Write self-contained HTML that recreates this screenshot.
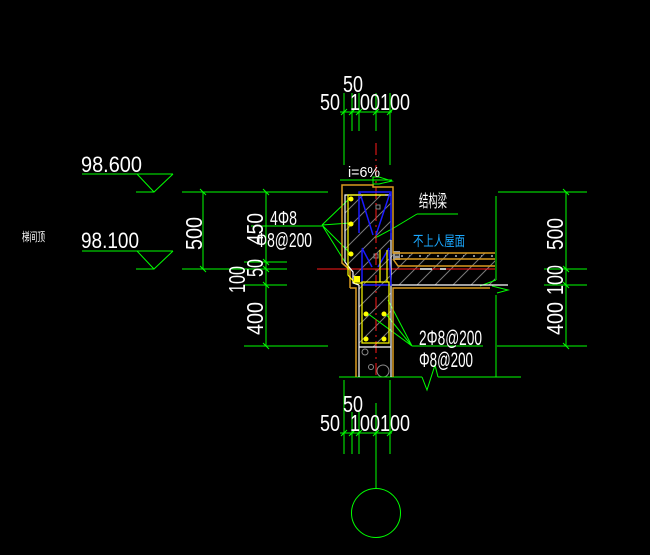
<!DOCTYPE html>
<html><head><meta charset="utf-8"><style>
html,body{margin:0;padding:0;background:#000;}
svg{display:block;}
text{font-family:"Liberation Sans","Noto Sans CJK SC",sans-serif;fill:#fff;}
</style></head><body>
<svg width="650" height="555" viewBox="0 0 650 555" xmlns="http://www.w3.org/2000/svg">
<defs>
<pattern id="h" patternUnits="userSpaceOnUse" width="18" height="18">
<path d="M0 18 L18 0 M-2 2 L2 -2 M16 20 L20 16" stroke="#7a7a7a" stroke-width="1"/>
</pattern>
</defs>
<rect width="650" height="555" fill="#000"/>

<!-- concrete hatch -->
<polygon points="345,195 391,195 391,253 495,253 495,285 391,285 391,347 359,347 359,285 353,278 345,263" fill="url(#h)"/>
<!-- screed layer -->
<line x1="401" y1="256" x2="495" y2="256" stroke="#8a8a8a" stroke-width="2" stroke-dasharray="2 6 1 9"/>
<rect x="393" y="251" width="7" height="9" fill="#9a9a9a"/>
<line x1="395" y1="255" x2="399" y2="255" stroke="#000"/>
<!-- concrete aggregate -->
<g fill="none" stroke="#8a8a8a">
<circle cx="365" cy="352" r="3"/><circle cx="371" cy="367" r="2.5"/><circle cx="383" cy="371" r="6"/>
<rect x="376" y="205" width="4" height="4"/><rect x="374" y="254" width="4" height="4"/>
</g>

<g stroke="#00ff00" stroke-width="1" fill="none" shape-rendering="crispEdges">
<!-- top dims -->
<line x1="340" y1="112" x2="392" y2="112"/>
<line x1="344" y1="93" x2="344" y2="165"/>
<line x1="352" y1="93" x2="352" y2="131"/>
<line x1="359" y1="93" x2="359" y2="131"/>
<line x1="376" y1="93" x2="376" y2="131"/>
<line x1="390" y1="93" x2="390" y2="165"/>
<line x1="340" y1="180" x2="392" y2="180"/>
<!-- bottom dims -->
<line x1="340" y1="433" x2="392" y2="433"/>
<line x1="344" y1="380" x2="344" y2="454"/>
<line x1="352" y1="412" x2="352" y2="454"/>
<line x1="359" y1="412" x2="359" y2="454"/>
<line x1="376" y1="403" x2="376" y2="489"/>
<line x1="390" y1="380" x2="390" y2="454"/>
<!-- elevations -->
<line x1="82" y1="174" x2="173" y2="174"/>
<line x1="136" y1="192" x2="154" y2="192"/>
<line x1="82" y1="251" x2="173" y2="251"/>
<line x1="136" y1="269" x2="154" y2="269"/>
<!-- left dims -->
<line x1="182" y1="192" x2="328" y2="192"/>
<line x1="182" y1="269" x2="287" y2="269"/>
<line x1="244" y1="262" x2="287" y2="262"/>
<line x1="244" y1="285" x2="287" y2="285"/>
<line x1="244" y1="346" x2="328" y2="346"/>
<line x1="203" y1="192" x2="203" y2="269"/>
<line x1="266" y1="192" x2="266" y2="346"/>
<line x1="251" y1="226" x2="322" y2="226"/>
<!-- right dims -->
<line x1="498" y1="192" x2="587" y2="192"/>
<line x1="544" y1="269" x2="587" y2="269"/>
<line x1="544" y1="285" x2="587" y2="285"/>
<line x1="497" y1="346" x2="587" y2="346"/>
<line x1="566" y1="192" x2="566" y2="346"/>
<line x1="496" y1="196" x2="496" y2="280"/>
<line x1="496" y1="295" x2="496" y2="377"/>
<!-- ground -->
<line x1="339" y1="377" x2="422" y2="377"/>
<line x1="438" y1="377" x2="521" y2="377"/>
<line x1="412" y1="346" x2="483" y2="346"/>
<line x1="417" y1="214" x2="458" y2="214"/>
</g>

<g stroke="#00ff00" stroke-width="1" fill="none">
<!-- elevation triangles -->
<polyline points="137,174 154,192 173,174"/>
<polyline points="137,251 154,269 173,251"/>
<!-- ticks -->
<path d="M200 189 L206 195 M200 266 L206 272 M263 189 L269 195 M263 259 L269 265 M263 266 L269 272 M263 282 L269 288 M263 343 L269 349 M563 189 L569 195 M563 266 L569 272 M563 282 L569 288 M563 343 L569 349"/>
<path d="M341 115 L347 109 M349 115 L355 109 M356 115 L362 109 M373 115 L379 109 M387 115 L393 109"/>
<path d="M341 436 L347 430 M349 436 L355 430 M356 436 L362 430 M373 436 L379 430 M387 436 L393 430"/>
<!-- slope arrow -->
<polygon points="373,177 379,177 392,181 379,184 373,184"/>
<!-- leaders -->
<path d="M322 225 L348 200 M322 225 L350 223 M322 225 L350 253 M322 225 L345 262"/>
<polyline points="417,214 392,229 375,238"/>
<path d="M412 346 L367 313 M412 346 L385 313 M412 346 L388 300"/>
<polyline points="422,377 427,390 435,365 438,377"/>
<!-- slab break -->
<path d="M480 286 L496 280 M492 286 L508 290 L497 293"/>
<!-- axis circle -->
<circle cx="376" cy="513" r="24.5"/>
</g>

<!-- red axes -->
<line x1="376" y1="143" x2="376" y2="377" stroke="#ff1a1a" stroke-width="1" stroke-dasharray="12 4 2 4"/>
<line x1="317" y1="269" x2="495" y2="269" stroke="#ff1a1a" stroke-width="1"/>

<!-- orange outline -->
<g stroke="#d99a1f" stroke-width="1.5" fill="none">
<polyline points="350,288 350,270 342,263 342,185 373,185 373,187 393,187 393,253 495,253"/>
<line x1="395" y1="259" x2="495" y2="259"/>
<polyline points="393,259 398,266 495,266"/>
<polyline points="350,288 356,288 356,377"/>
<polyline points="393,377 393,288 490,288"/>
</g>

<!-- white outline -->
<g stroke="#ffffff" stroke-width="1.2" fill="none">
<polyline points="391,195 345,195 345,262 353,272 353,283 359,285"/>
<line x1="391" y1="233" x2="391" y2="285"/>
<line x1="391" y1="285" x2="508" y2="285"/>
<line x1="359" y1="285" x2="359" y2="377"/>
<line x1="391" y1="285" x2="391" y2="377"/>
<line x1="359" y1="347" x2="391" y2="347"/>
<path d="M420 269 L432 269 M440 269 L446 269" stroke-width="1.5"/>
</g>

<!-- blue beam -->
<g stroke="#1a1aff" stroke-width="1.5" fill="none">
<polyline points="359,233 359,192 391,192 391,240"/>
<polyline points="362,250 362,285 391,285 389,250"/>
<path d="M360 193 L373 235 M390 193 L376 235 M362 248 L372 267 M389 248 L378 267"/>
</g>

<!-- yellow rebar -->
<g stroke="#ffff00" stroke-width="1.2" fill="none">
<polyline points="385,195 348,195 348,275 355,283 362,283"/>
<rect x="362" y="282" width="27" height="61"/>
<line x1="380" y1="250" x2="380" y2="282"/>
<line x1="387" y1="250" x2="387" y2="282"/>
</g>
<g fill="#ffff00">
<circle cx="351" cy="199" r="2.5"/><circle cx="351" cy="224" r="2.5"/><circle cx="351" cy="254" r="2.5"/>
<rect x="354" y="276" width="6" height="6"/>
<circle cx="366" cy="314" r="2.5"/><circle cx="384" cy="314" r="2.5"/>
<circle cx="366" cy="339" r="2.5"/><circle cx="384" cy="339" r="2.5"/>
</g>

<!-- texts -->
<text x="343" y="92" font-size="23" textLength="20" lengthAdjust="spacingAndGlyphs">50</text>
<text x="320" y="110" font-size="23" textLength="20" lengthAdjust="spacingAndGlyphs">50</text>
<text x="350" y="110" font-size="23" textLength="60" lengthAdjust="spacingAndGlyphs">100100</text>
<text x="343" y="412" font-size="23" textLength="20" lengthAdjust="spacingAndGlyphs">50</text>
<text x="320" y="431" font-size="23" textLength="20" lengthAdjust="spacingAndGlyphs">50</text>
<text x="350" y="431" font-size="23" textLength="60" lengthAdjust="spacingAndGlyphs">100100</text>
<text x="348" y="177" font-size="15" textLength="32" lengthAdjust="spacingAndGlyphs">i=6%</text>

<text x="81" y="172" font-size="22" textLength="61" lengthAdjust="spacingAndGlyphs">98.600</text>
<text x="81" y="248" font-size="22" textLength="58" lengthAdjust="spacingAndGlyphs">98.100</text>
<text x="22" y="241" font-size="12" textLength="23" lengthAdjust="spacingAndGlyphs">梯间顶</text>

<text transform="translate(202,250) rotate(-90)" font-size="23" textLength="33" lengthAdjust="spacingAndGlyphs">500</text>
<text transform="translate(263,245) rotate(-90)" font-size="23" textLength="32" lengthAdjust="spacingAndGlyphs">450</text>
<text transform="translate(263,277) rotate(-90)" font-size="23" textLength="18" lengthAdjust="spacingAndGlyphs">50</text>
<text transform="translate(245,293) rotate(-90)" font-size="23" textLength="27" lengthAdjust="spacingAndGlyphs">100</text>
<text transform="translate(263,335) rotate(-90)" font-size="23" textLength="33" lengthAdjust="spacingAndGlyphs">400</text>
<text transform="translate(563,250) rotate(-90)" font-size="23" textLength="32" lengthAdjust="spacingAndGlyphs">500</text>
<text transform="translate(563,295) rotate(-90)" font-size="23" textLength="30" lengthAdjust="spacingAndGlyphs">100</text>
<text transform="translate(563,335) rotate(-90)" font-size="23" textLength="33" lengthAdjust="spacingAndGlyphs">400</text>

<text x="270" y="225" font-size="20" textLength="27" lengthAdjust="spacingAndGlyphs">4Φ8</text>
<text x="256" y="247" font-size="20" textLength="56" lengthAdjust="spacingAndGlyphs">Φ8@200</text>
<text x="419" y="345" font-size="21" textLength="63" lengthAdjust="spacingAndGlyphs">2Φ8@200</text>
<text x="419" y="367" font-size="21" textLength="54" lengthAdjust="spacingAndGlyphs">Φ8@200</text>

<text x="419" y="207" font-size="17" textLength="28" lengthAdjust="spacingAndGlyphs">结构梁</text>
<text x="413" y="246" font-size="14" textLength="52" lengthAdjust="spacingAndGlyphs" style="fill:#1aa8ff">不上人屋面</text>
</svg>
</body></html>
